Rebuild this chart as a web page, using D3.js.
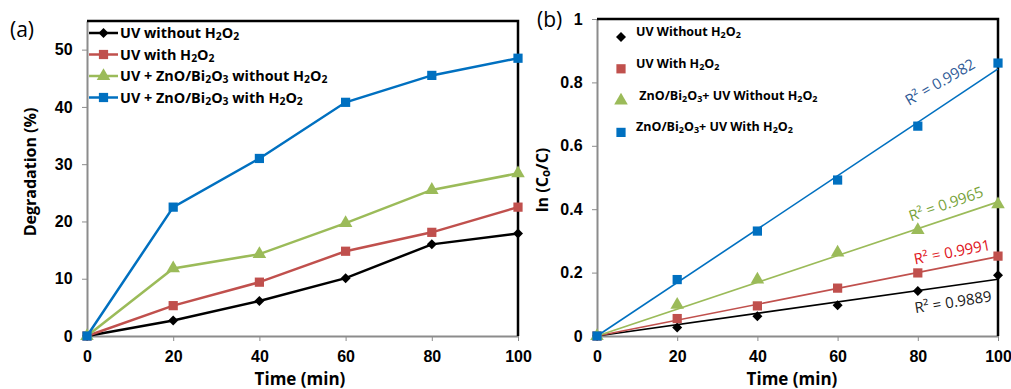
<!DOCTYPE html>
<html>
<head>
<meta charset="utf-8">
<script src="https://cdn.jsdelivr.net/npm/d3@7"></script>
<style>
	body { margin: 0; background: #fff; }
	svg { display: block; font-family: "Open Sans", "Liberation Sans", sans-serif; }
</style>
</head>
<body>
<svg id="chart" width="1011" height="389"></svg>
<script>
// time axis shared by both panels
var timeMin = [0, 20, 40, 60, 80, 100];

// panel (a): degradation (%)
var degUv = [0, 2.7, 6.1, 10.1, 16.0, 17.9];
var degUvH2O2 = [0, 5.3, 9.4, 14.8, 18.1, 22.5];
var degCatUv = [0, 11.8, 14.3, 19.7, 25.5, 28.4];
var degCatUvH2O2 = [0, 22.5, 31.0, 40.8, 45.5, 48.5];

// panel (b): ln(Co/C)
var lnUv = [0, 0.027, 0.062, 0.097, 0.142, 0.192];
var lnUvH2O2 = [0, 0.055, 0.095, 0.151, 0.199, 0.252];
var lnCatUv = [0, 0.098, 0.178, 0.263, 0.334, 0.415];
var lnCatUvH2O2 = [0, 0.178, 0.331, 0.492, 0.662, 0.861];

var legendA = ["UV without H_2O_2", "UV with H_2O_2", "UV + ZnO/Bi_2O_3 without H_2O_2", "UV + ZnO/Bi_2O_3 with H_2O_2"];
var legendB = ["UV Without H_2O_2", "UV With H_2O_2", " ZnO/Bi_2O_3+ UV Without H_2O_2", "ZnO/Bi_2O_3+ UV With H_2O_2"];
var r2Labels = ["R² = 0.9889", "R² = 0.9991", "R² = 0.9965", "R² = 0.9982"];

var xTicks = [0, 20, 40, 60, 80, 100];
var yTicksA = [0, 10, 20, 30, 40, 50];
var yTicksB = [0, 0.2, 0.4, 0.6, 0.8, 1];

var colors = ["#000000", "#C0504D", "#9BBB59", "#0070C0"];
var shapes = [d3.symbolSquare, d3.symbolSquare, d3.symbolTriangle, d3.symbolSquare];
var symSize = [50, 85, 80, 85];
var symRot = [45, 0, 0, 0];
var r2Colors = ["#1a1a1a", "#E0131C", "#77A33A", "#2F5B97"];

var svg = d3.select("#chart");

// writes "H_2O_2" style text with subscripts
function richText(sel, str) {
	var parts = str.split(/(_\d)/);
	parts.forEach(p => {
		if (p === "") return;
		if (p[0] === "_") {
			sel.append("tspan").attr("baseline-shift", "-18%").attr("font-size", "0.72em").text(p.slice(1));
		} else {
			sel.append("tspan").text(p);
		}
	});
}

function frame(g, x, y, fmt) {
	var xr = x.range(), yr = y.range();
	g.append("g")
		.attr("transform", `translate(0, ${yr[0]})`)
		.call(d3.axisBottom(x).tickValues(xTicks).tickSize(5).tickSizeOuter(0).tickFormat(d3.format("d")))
		.call(a => a.select(".domain").attr("stroke", "#8c8c8c").attr("stroke-width", 2))
		.call(a => a.selectAll(".tick line").attr("stroke", "#8c8c8c"))
		.call(a => a.selectAll(".tick text").attr("dy", "1.1em").attr("font-size", 16).attr("font-weight", "bold").attr("fill", "#000"));
	g.append("g")
		.attr("transform", `translate(${xr[0]}, 0)`)
		.call(d3.axisLeft(y).tickValues(fmt.ticks).tickSize(5).tickSizeOuter(0).tickFormat(fmt.f))
		.call(a => a.select(".domain").attr("stroke", "#8c8c8c").attr("stroke-width", 2))
		.call(a => a.selectAll(".tick line").attr("stroke", "#8c8c8c"))
		.call(a => a.selectAll(".tick text").attr("dx", "-0.4em").attr("font-size", 16).attr("font-weight", "bold").attr("fill", "#000"));
	g.append("path")
		.attr("d", `M${xr[0]},${yr[1]}H${xr[1]}V${yr[0]}`)
		.attr("fill", "none")
		.attr("stroke", "#000")
		.attr("stroke-width", 2.5);
}

function marker(g, i, cx, cy) {
	g.append("path")
		.attr("d", d3.symbol().type(shapes[i]).size(symSize[i]))
		.attr("transform", `translate(${cx}, ${cy}) rotate(${symRot[i]})`)
		.attr("fill", colors[i]);
}

// ---------- panel (a) ----------
var seriesA = [degUv, degUvH2O2, degCatUv, degCatUvH2O2];
var xA = d3.scaleLinear().domain([0, 100]).range([87, 518]);
var yA = d3.scaleLinear().domain([0, 55]).range([336, 21]);
var gA = svg.append("g");

frame(gA, xA, yA, { ticks: yTicksA, f: d3.format("d") });

seriesA.forEach((s, i) => {
	var pts = timeMin.map((t, j) => [xA(t), yA(s[j])]);
	gA.append("path")
		.attr("d", d3.line()(pts))
		.attr("fill", "none")
		.attr("stroke", colors[i])
		.attr("stroke-width", 2.5);
	pts.forEach(p => marker(gA, i, p[0], p[1]));
});

legendA.forEach((t, i) => {
	var ly = 33 + i * 21.5;
	gA.append("line")
		.attr("x1", 89).attr("x2", 118).attr("y1", ly).attr("y2", ly)
		.attr("stroke", colors[i]).attr("stroke-width", 2.5);
	marker(gA, i, 103.5, ly);
	var tx = gA.append("text")
		.attr("x", 120).attr("y", ly + 5)
		.attr("font-size", 14.4).attr("font-weight", "bold");
	richText(tx, t);
});

gA.append("text").attr("x", 10).attr("y", 37).attr("font-size", 21).text("(a)");
gA.append("text")
	.attr("transform", "translate(36, 172) rotate(-90)")
	.attr("text-anchor", "middle").attr("font-size", 16).attr("font-weight", "bold")
	.text("Degradation (%)");
gA.append("text")
	.attr("x", 300).attr("y", 385)
	.attr("text-anchor", "middle").attr("font-size", 17).attr("font-weight", "bold")
	.text("Time (min)");

// ---------- panel (b) ----------
var seriesB = [lnUv, lnUvH2O2, lnCatUv, lnCatUvH2O2];
var xB = d3.scaleLinear().domain([0, 100]).range([597, 998]);
var yB = d3.scaleLinear().domain([0, 1]).range([336, 19]);
var gB = svg.append("g");

frame(gB, xB, yB, { ticks: yTicksB, f: d => d === 0 || d === 1 ? String(d) : d3.format(".1f")(d) });

var r2Pos = [[953, 302, -9], [952, 252, -11], [946, 204, -19], [940, 82, -30]];

seriesB.forEach((s, i) => {
	// linear trendline forced through the origin
	var sxy = d3.sum(timeMin, (t, j) => t * s[j]);
	var sxx = d3.sum(timeMin, t => t * t);
	var k = sxy / sxx;
	gB.append("line")
		.attr("x1", xB(0)).attr("y1", yB(0))
		.attr("x2", xB(100)).attr("y2", yB(k * 100))
		.attr("stroke", colors[i]).attr("stroke-width", 1.6);
	timeMin.forEach((t, j) => marker(gB, i, xB(t), yB(s[j])));
	gB.append("text")
		.attr("transform", `translate(${r2Pos[i][0]}, ${r2Pos[i][1]}) rotate(${r2Pos[i][2]})`)
		.attr("text-anchor", "middle").attr("dy", "0.35em")
		.attr("font-size", 15).attr("fill", r2Colors[i])
		.text(r2Labels[i]);
});

legendB.forEach((t, i) => {
	var ly = 35 + i * 31.8;
	marker(gB, i, 621, ly + 2);
	var tx = gB.append("text")
		.attr("x", 636).attr("y", ly + 1)
		.attr("font-size", 12.5).attr("font-weight", "bold")
		.attr("xml:space", "preserve");
	richText(tx, t);
});

gB.append("text").attr("x", 537).attr("y", 27).attr("font-size", 21).text("(b)");
var lnLab = gB.append("text")
	.attr("transform", "translate(548, 180) rotate(-90)")
	.attr("text-anchor", "middle").attr("font-size", 16).attr("font-weight", "bold");
lnLab.append("tspan").text("ln (C");
lnLab.append("tspan").attr("baseline-shift", "-18%").attr("font-size", "0.72em").text("o");
lnLab.append("tspan").text("/C)");
gB.append("text")
	.attr("x", 792).attr("y", 385)
	.attr("text-anchor", "middle").attr("font-size", 17).attr("font-weight", "bold")
	.text("Time (min)");
</script>
</body>
</html>
